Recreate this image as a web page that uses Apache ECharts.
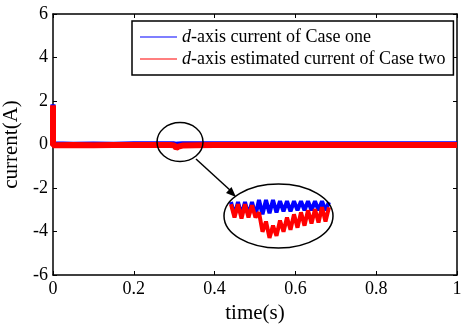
<!DOCTYPE html>
<html>
<head>
<meta charset="utf-8">
<script src="https://cdn.jsdelivr.net/npm/echarts@6/dist/echarts.min.js"></script>
<style>
  html, body { margin: 0; padding: 0; background: #fff; }
  #chart { width: 461px; height: 324px; }
</style>
</head>
<body>
<div id="chart"></div>
<script>
// main traces (time in s, current in A)
var mainTime = [0, 0, 0.05, 0.1, 0.15, 0.2, 0.25, 0.29, 0.3, 0.305, 0.31, 0.32, 0.35, 0.4, 0.5, 0.6, 0.7, 0.8, 0.9, 1.0];
var blueVals = [1.85, 0.03, 0.01, 0.02, 0.01, 0.03, 0.04, 0.04, 0.03, 0.01, 0.02, 0.03, 0.04, 0.04, 0.04, 0.04, 0.03, 0.04, 0.04, 0.04];
var redVals = [1.8, -0.03, -0.02, -0.03, -0.02, -0.02, -0.02, -0.02, -0.04, -0.16, -0.1, -0.05, -0.03, -0.02, -0.02, -0.02, -0.02, -0.02, -0.02, -0.02];

// magnified view inside the big ellipse
var zoomTime = [0, 1, 2, 3, 4, 5, 6, 7, 8, 9, 10, 11, 12, 13, 14, 15, 16, 17, 18, 19, 20, 21, 22, 23, 24, 25, 26, 27, 28];
var zoomBlue = [0.05, -0.08, 0.05, -0.08, 0.05, -0.08, 0.05, -0.08, 0.07, -0.07, 0.07, -0.06, 0.07, -0.05, 0.06, -0.04, 0.06, -0.04, 0.06, -0.03, 0.06, -0.03, 0.06, -0.03, 0.06, -0.03, 0.06, -0.03, 0.05];
var zoomRed = [0.03, -0.1, 0.03, -0.11, 0.03, -0.1, 0.02, -0.1, -0.05, -0.24, -0.14, -0.3, -0.18, -0.28, -0.13, -0.24, -0.1, -0.22, -0.07, -0.2, -0.05, -0.18, -0.03, -0.16, -0.02, -0.15, 0.0, -0.14, 0.0];

var nameBlue = "d-axis current of Case one";
var nameRed = "d-axis estimated current of Case two";

var font = "Liberation Serif";

function pairs(xs, ys) {
  return xs.map(function (x, i) { return [x, ys[i]]; });
}

var chart = echarts.init(document.getElementById("chart"));

var axisLine = { show: true, onZero: false, lineStyle: { color: "#000", width: 1.5 } };
var tickIn = { show: true, inside: true, length: 4, lineStyle: { color: "#000", width: 1 } };

var option = {
  animation: false,
  backgroundColor: "#fff",
  grid: [
    { left: 53, right: 4, top: 14, bottom: 49, containLabel: false, outerBoundsMode: "none" },
    { left: 231, top: 197, width: 98, height: 46, containLabel: false, outerBoundsMode: "none" }
  ],
  legend: {
    data: [nameBlue, nameRed],
    orient: "vertical",
    left: 132,
    top: 21,
    padding: [6, 8, 6, 8],
    itemGap: 2,
    itemWidth: 37,
    itemHeight: 1.2,
    icon: "rect",
    borderColor: "#000",
    borderWidth: 1.5,
    backgroundColor: "#fff",
    formatter: function (name) {
      return "{i|d}" + name.slice(1);
    },
    textStyle: {
      fontFamily: font,
      fontSize: 18,
      lineHeight: 20,
      color: "#000",
      rich: {
        i: { fontFamily: font, fontSize: 18, lineHeight: 20, fontStyle: "italic", color: "#000" }
      }
    }
  },
  xAxis: [
    {
      type: "value", gridIndex: 0, min: 0, max: 1, interval: 0.2,
      name: "time(s)", nameLocation: "middle", nameGap: 25,
      nameTextStyle: { fontFamily: font, fontSize: 21, color: "#000" },
      axisLine: axisLine, axisTick: tickIn,
      axisLabel: { fontFamily: font, fontSize: 18, color: "#000", margin: 5 },
      splitLine: { show: false }
    },
    {
      type: "value", gridIndex: 0, position: "top", min: 0, max: 1, interval: 0.2,
      axisLine: axisLine, axisTick: tickIn, axisLabel: { show: false }, splitLine: { show: false }
    },
    {
      type: "value", gridIndex: 1, min: 0, max: 28, show: false
    }
  ],
  yAxis: [
    {
      type: "value", gridIndex: 0, min: -6, max: 6, interval: 2,
      name: "current(A)", nameLocation: "middle", nameGap: 22,
      nameTextStyle: { fontFamily: font, fontSize: 21, color: "#000" },
      axisLine: axisLine, axisTick: tickIn,
      axisLabel: { fontFamily: font, fontSize: 18, color: "#000", margin: 5 },
      splitLine: { show: false }
    },
    {
      type: "value", gridIndex: 0, position: "right", min: -6, max: 6, interval: 2,
      axisLine: axisLine, axisTick: tickIn, axisLabel: { show: false }, splitLine: { show: false }
    },
    {
      type: "value", gridIndex: 1, min: -0.35, max: 0.1, show: false
    }
  ],
  series: [
    {
      name: nameBlue, type: "line", xAxisIndex: 0, yAxisIndex: 0,
      data: pairs(mainTime, blueVals), symbol: "none",
      itemStyle: { color: "#0000ff" },
      lineStyle: { color: "#0000ff", width: 5 }
    },
    {
      name: nameRed, type: "line", xAxisIndex: 0, yAxisIndex: 0,
      data: pairs(mainTime, redVals), symbol: "none",
      itemStyle: { color: "#ff0000" },
      lineStyle: { color: "#ff0000", width: 6 }
    },
    {
      name: "zoomBlue", type: "line", xAxisIndex: 2, yAxisIndex: 2,
      data: pairs(zoomTime, zoomBlue), symbol: "none",
      lineStyle: { color: "#0000ff", width: 4 }
    },
    {
      name: "zoomRed", type: "line", xAxisIndex: 2, yAxisIndex: 2,
      data: pairs(zoomTime, zoomRed), symbol: "none",
      lineStyle: { color: "#ff0000", width: 4 }
    }
  ],
  graphic: [
    {
      type: "ellipse", z: 100,
      shape: { cx: 180, cy: 142, rx: 23, ry: 19.5 },
      style: { fill: null, stroke: "#000", lineWidth: 1.5 }
    },
    {
      type: "line", z: 100,
      shape: { x1: 196, y1: 159, x2: 231, y2: 191 },
      style: { stroke: "#000", lineWidth: 1.5 }
    },
    {
      type: "polygon", z: 100,
      shape: { points: [[236, 197], [226, 193], [231.5, 187]] },
      style: { fill: "#000" }
    },
    {
      type: "ellipse", z: 100,
      shape: { cx: 278.5, cy: 216, rx: 54.5, ry: 32 },
      style: { fill: null, stroke: "#000", lineWidth: 1.5 }
    }
  ]
};

chart.setOption(option);
</script>
</body>
</html>
